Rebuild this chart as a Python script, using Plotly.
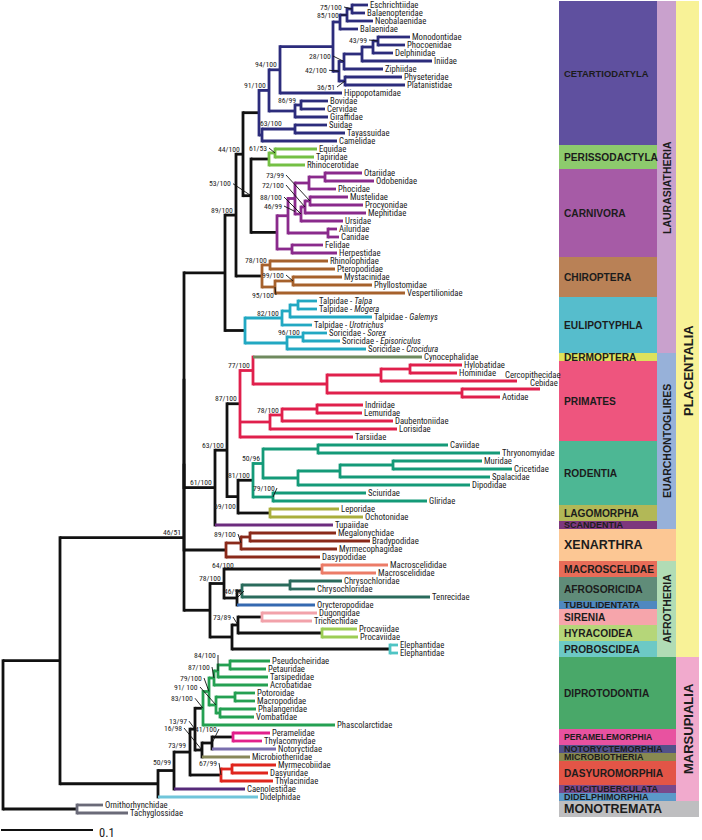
import plotly.graph_objects as go

# ------------------------------------------------------------------ data
LEAF_NAMES = [
    "Eschrichtiidae", "Balaenopteridae", "Neobalaenidae", "Balaenidae", "Monodontidae", "Phocoenidae",
    "Delphinidae", "Iniidae", "Ziphiidae", "Physeteridae", "Platanistidae", "Hippopotamidae", "Bovidae",
    "Cervidae", "Giraffidae", "Suidae", "Tayassuidae", "Camelidae",
    "Equidae", "Tapiridae", "Rhinocerotidae",
    "Otariidae", "Odobenidae", "Phocidae", "Mustelidae", "Procyonidae", "Mephitidae", "Ursidae",
    "Ailuridae", "Canidae", "Felidae", "Herpestidae",
    "Rhinolophidae", "Pteropodidae", "Mystacinidae", "Phyllostomidae", "Vespertilionidae",
    "Talpidae - <i>Talpa</i>", "Talpidae - <i>Mogera</i>", "Talpidae - <i>Galemys</i>",
    "Talpidae - <i>Urotrichus</i>", "Soricidae - <i>Sorex</i>", "Soricidae - <i>Episoriculus</i>",
    "Soricidae - <i>Crocidura</i>",
    "Cynocephalidae",
    "Hylobatidae", "Hominidae", "Cercopithecidae", "Cebidae", "Aotidae", "Indriidae", "Lemuridae",
    "Daubentoniidae", "Lorisidae", "Tarsiidae",
    "Caviidae", "Thryonomyidae", "Muridae", "Cricetidae", "Spalacidae", "Dipodidae", "Sciuridae", "Gliridae",
    "Leporidae", "Ochotonidae",
    "Tupaiidae",
    "Megalonychidae", "Bradypodidae", "Myrmecophagidae", "Dasypodidae",
    "Macroscelididae", "Macroscelididae",
    "Chrysochloridae", "Chrysochloridae", "Tenrecidae",
    "Orycteropodidae",
    "Dugongidae", "Trichechidae",
    "Procaviidae", "Procaviidae",
    "Elephantidae", "Elephantidae",
    "Pseudocheiridae", "Petauridae", "Tarsipedidae", "Acrobatidae", "Potoroidae", "Macropodidae",
    "Phalangeridae", "Vombatidae", "Phascolarctidae",
    "Peramelidae", "Thylacomyidae",
    "Notoryctidae",
    "Microbiotheriidae",
    "Myrmecobiidae", "Dasyuridae", "Thylacinidae",
    "Caenolestidae",
    "Didelphidae",
    "Ornithorhynchidae", "Tachyglossidae",
]

# distance of each tip from the root (tree units: 920 units = 1 substitution/site)
LEAF_DEPTH = [
    365, 362, 370, 355, 407, 402, 390, 429, 380, 399, 402, 339, 325, 322, 325, 324, 342, 334,
    314, 311, 302,
    359, 371, 333, 345, 360, 363, 340, 334, 336, 320, 334,
    325, 332, 339, 369, 402,
    314, 314, 369, 309, 324, 337, 363,
    419,
    459, 454, 514, 537, 497, 360, 359, 390, 394, 350,
    445, 497, 479, 509, 487, 467, 363, 424,
    336, 360,
    330,
    333, 367, 334, 317,
    385, 373,
    339, 312, 427,
    312,
    314, 309,
    354, 355,
    395, 395,
    267, 263, 265, 265, 252, 252, 253, 251, 332,
    267, 259,
    273,
    247,
    273, 265, 270,
    242,
    255,
    100, 125,
]

ORDER_CODES = ["CET", "PER", "CAR", "CHI", "EUL", "DER", "PRI", "ROD", "LAG", "SCA", "XEN", "MAC", "AFS",
               "TUB", "SIR", "HYR", "PRO", "DIP", "PEM", "NOT", "MIC", "DAS", "PAU", "DID", "MON"]
ORDER_NAMES = ["CETARTIODATYLA", "PERISSODACTYLA", "CARNIVORA", "CHIROPTERA", "EULIPOTYPHLA", "DERMOPTERA",
               "PRIMATES", "RODENTIA", "LAGOMORPHA", "SCANDENTIA", "XENARTHRA", "MACROSCELIDAE",
               "AFROSORICIDA", "TUBULIDENTATA", "SIRENIA", "HYRACOIDEA", "PROBOSCIDEA", "DIPROTODONTIA",
               "PERAMELEMORPHIA", "NOTORYCTEMORPHIA", "MICROBIOTHERIA", "DASYUROMORPHIA",
               "PAUCITUBERCULATA", "DIDELPHIMORPHIA", "MONOTREMATA"]
ORDER_LEAF_COUNT = [18, 3, 11, 5, 7, 1, 10, 8, 2, 1, 4, 2, 3, 1, 2, 2, 2, 9, 2, 1, 1, 3, 1, 1, 2]

SUPERORDERS = ["LAURASIATHERIA", "EUARCHONTOGLIRES", "AFROTHERIA"]
SUPERORDER_MEMBERS = [["CET", "PER", "CAR", "CHI", "EUL"],
                      ["DER", "PRI", "ROD", "LAG", "SCA"],
                      ["MAC", "AFS", "TUB", "SIR", "HYR", "PRO"]]
INFRACLASSES = ["PLACENTALIA", "MARSUPIALIA"]
INFRACLASS_MEMBERS = [["CET", "PER", "CAR", "CHI", "EUL", "DER", "PRI", "ROD", "LAG", "SCA", "XEN",
                       "MAC", "AFS", "TUB", "SIR", "HYR", "PRO"],
                      ["DIP", "PEM", "NOT", "MIC", "DAS", "PAU", "DID"]]

# internal nodes: id, depth, children (int = leaf index), clade, support (ML bootstrap / Bayesian PP)
NODE_IDS = ["EB", "ENB", "MYS", "MPH", "DELPH", "INIO", "ZIP", "PP", "ODO", "CETACEA", "WHIP", "BC", "RUM",
            "X1", "SUI", "Y1", "CETA", "ET", "PERI", "OO", "PIN", "MPC", "MUS", "MU", "ARC", "AC", "CAN",
            "FH", "CARN", "ZOO", "FER", "YIN", "MP2", "YAN", "CHIR", "SCR", "TM", "TMG", "TAL", "SE", "SOR",
            "EULI", "LAU", "HOMI", "CATA", "PLAT", "ANTH", "N77", "IL", "LEMF", "STR", "PRIM", "HYS", "MC",
            "MUR", "MYO", "N50", "SG", "RODE", "LAGO", "GLI", "N63", "EUA", "MB", "PIL", "XENA", "MACR",
            "CHR", "AFSO", "AT", "AIN", "SIRE", "HYRA", "SH", "PROB", "PAE", "AFR", "BOR", "BX", "PLA",
            "F", "E", "D2", "G", "H", "D3", "D1", "DIPR", "PEMN", "C", "B", "A", "DMD", "DASY", "AUS",
            "N73", "MARS", "THE", "MONO", "ROOT"]
NODE_DEPTH = [349, 344, 337, 375, 370, 359, 341, 342, 336, 330, 277, 298, 292,
              266, 292, 259, 256, 272, 266, 322, 306, 307, 302, 298, 292, 325, 285,
              289, 274, 248, 240, 267, 290, 272, 259, 233, 295, 287, 279, 300, 284,
              242, 222, 407, 378, 459, 324, 250, 314, 279, 267, 237, 315, 390,
              337, 295, 260, 270, 250, 267, 235, 224, 212, 247, 238, 223, 319,
              287, 239, 234, 221, 259, 319, 235, 387, 229, 207, 181, 181, 181,
              227, 215, 211, 232, 217, 213, 206, 200, 230, 209, 199, 192, 229, 218, 187,
              171, 155, 57, 74, 0]
NODE_CHILDREN = [[0, 1], ["EB", 2], ["ENB", 3], [4, 5], ["MPH", 6], ["DELPH", 7], ["INIO", 8], [9, 10],
                 ["ZIP", "PP"], ["MYS", "ODO"], ["CETACEA", 11], [12, 13], ["BC", 14],
                 ["WHIP", "RUM"], [15, 16], ["SUI", 17], ["X1", "Y1"], [18, 19], ["ET", 20], [21, 22],
                 ["OO", 23], [24, 25], ["MPC", 26], ["MUS", 27], ["PIN", "MU"], [28, 29], ["ARC", "AC"],
                 [30, 31], ["CAN", "FH"], ["PERI", "CARN"], ["CETA", "ZOO"], [32, 33], [34, 35],
                 ["MP2", 36], ["YIN", "YAN"], ["FER", "CHIR"], [37, 38], ["TM", 39], ["TMG", 40],
                 [41, 42], ["SE", 43],
                 ["TAL", "SOR"], ["SCR", "EULI"], [45, 46], ["HOMI", 47], [48, 49], ["CATA", "PLAT"],
                 [44, "ANTH"], [50, 51], ["IL", 52], ["LEMF", 53], ["N77", "STR", 54], [55, 56], [57, 58],
                 ["MC", 59], ["MUR", 60], ["HYS", "MYO"], [61, 62], ["N50", "SG"], [63, 64],
                 ["RODE", "LAGO"], ["PRIM", "GLI"], ["N63", 65], [66, 67], ["MB", 68], ["PIL", 69],
                 [70, 71],
                 [72, 73], ["CHR", 74], ["AFSO", 75], ["MACR", "AT"], [76, 77], [78, 79],
                 ["SIRE", "HYRA"], [80, 81], ["SH", "PROB"], ["AIN", "PAE"], ["LAU", "EUA"],
                 ["BOR", "XENA"], ["BX", "AFR"],
                 [82, 83], ["F", 84], ["E", 85], [86, 87], [88, 89], ["G", "H"], ["D2", "D3"],
                 ["D1", 90], [91, 92], ["PEMN", 93], ["C", 94], ["DIPR", "B"], [95, 96], ["DMD", 97],
                 ["A", "DASY"],
                 ["AUS", 98], ["N73", 99], ["PLA", "MARS"], [100, 101], ["THE", "MONO"]]
NODE_CLADE = ["CET"] * 17 + ["PER", "PER"] + ["CAR"] * 10 + [None, None] + ["CHI"] * 4 + [None] + \
             ["EUL"] * 6 + [None] + ["PRI"] * 9 + ["ROD"] * 7 + ["LAG", None, None, None] + \
             ["XEN"] * 3 + ["MAC", "AFS", "AFS", None, None, "SIR", "HYR", None, "PRO", None, None,
                            None, None, None] + \
             ["DIP"] * 8 + ["PEM", None, None, None, "DAS", "DAS", None, None, None, None, "MON", None]
NODE_SUPPORT = ["75/100", "85/100", "", "43/99", "", "", "28/100", "36/51", "42/100", "", "94/100",
                "86/99", "", "91/100", "", "63/100", "", "61/53", "", "", "", "73/99", "72/100",
                "88/100", "46/99", "", "", "", "", "53/100", "44/100", "78/100", "99/100", "95/100",
                "", "89/100", "", "", "82/100", "96/100", "", "", "", "", "", "", "", "77/100", "",
                "78/100", "", "87/100", "", "", "", "", "50/96", "79/100", "81/100", "", "69/100",
                "63/100", "61/100", "", "89/100", "", "64/100", "", "", "46/96", "78/100", "", "",
                "73/89", "", "", "", "", "", "46/51",
                "", "84/100", "87/100", "", "", "91/ 100", "79/100", "83/100", "", "41/100", "16/98",
                "13/97", "", "67/99", "", "73/99", "50/99", "", "", ""]

SCALE_BAR_VALUE = 0.1
DEPTH_PER_UNIT = 920  # tree depth units per substitution/site

# ------------------------------------------------------------------ style
BLACK = "#111111"
BRANCH_COLOR = {
    "CET": "#2c2c7c", "PER": "#74c044", "CAR": "#8a2a8c", "CHI": "#a6612c", "EUL": "#22a8c2",
    "DER": "#6f8a5e", "PRI": "#e0204c", "ROD": "#149a78", "LAG": "#a9ae3c", "SCA": "#6c2c7e",
    "XEN": "#8a2a1a", "MAC": "#ec7c68", "AFS": "#2a6b5c", "TUB": "#3569b0", "SIR": "#f2a2aa",
    "HYR": "#9ccd55", "PRO": "#4fc4c4", "DIP": "#24a052", "PEM": "#e2208c", "NOT": "#7a6fae",
    "MIC": "#88885a", "DAS": "#e0261e", "PAU": "#562a7a", "DID": "#70c5da", "MON": "#6a6a78",
}
ORDER_FILL = {
    "CET": "#5f509f", "PER": "#8dca6d", "CAR": "#a65ba6", "CHI": "#b98156", "EUL": "#56bdcc",
    "DER": "#dde25c", "PRI": "#ee557e", "ROD": "#4db794", "LAG": "#b2b857", "SCA": "#7d377d",
    "XEN": "#fcc794", "MAC": "#e86c58", "AFS": "#608c79", "TUB": "#4f88c0", "SIR": "#f6a5ab",
    "HYR": "#b5d679", "PRO": "#6dc9c5", "DIP": "#49a869", "PEM": "#e852a0", "NOT": "#525189",
    "MIC": "#898951", "DAS": "#e35547", "PAU": "#79498c", "DID": "#5b99c9", "MON": "#bebec0",
}
SUPER_FILL = {"LAURASIATHERIA": "#c9a1cd", "EUARCHONTOGLIRES": "#97b1d9", "AFROTHERIA": "#b1dcb5",
              "PLACENTALIA": "#f8f297", "MARSUPIALIA": "#f1aacd"}
ORDER_FONT = {"XEN": 12.5, "MON": 12.5, "SCA": 9, "NOT": 9, "MIC": 9, "PAU": 9, "DID": 9, "PEM": 8.6,
              "TUB": 9.2, "CET": 9.4}
LINE_W = 2.8
NARROW = "Roboto Condensed, DejaVu Sans Condensed, sans-serif"
BOLD = "Liberation Sans, Arial, sans-serif"
LEAF_FONT = 8.7
SUPPORT_FONT = 7.7

# support-label placement: node -> (dx px, dy px, leader line, leader target dy px)
LABEL_POS = {
    "EB": (-9, -2, True, 0), "ENB": (-7, 0, True, 0), "MPH": (-10, -1, True, 0),
    "ZIP": (-12, -5.5, True, 0), "PP": (-9, 6, True, 0), "ODO": (-11, -1, True, 0),
    "BC": (-4, -5, False, 0), "Y1": (21, -12, False, 0), "ET": (-7, -5, True, 0),
    "MPC": (-25, -26, True, 0), "MUS": (-20, -22, True, 0), "MU": (-18, -17, True, 0),
    "ARC": (-12, 7.5, True, 13), "ZOO": (-19, -12, True, 0), "MP2": (-8, -6, True, 0),
    "YAN": (0, 8, True, 0), "SG": (3, -9, True, 0), "GLI": (-1, 10, False, 0),
    "PIL": (-4, -9, True, 0), "MACR": (-87, -4, False, 0), "AT": (6, -7, True, 0),
    "SH": (-6, -8, True, 0), "E": (-1, -16, True, 0), "D2": (-3, -11, True, 0),
    "D3": (-17, -18, True, 0), "D1": (-6, -13.5, True, 0), "DIPR": (-9, -10, True, 0),
    "C": (6, -14, True, 0), "B": (-19, -22, True, 0), "A": (-7, -8, True, 0),
    "DASY": (-3, -12, True, 0), "N73": (13, -25.5, False, 0), "MARS": (14, -21, False, 0),
}
LEAF_LABEL_SHIFT = {47: (-14, -6), 48: (-12, -6)}
VLABEL_SHIFT = {"LAURASIATHERIA": 11, "PLACENTALIA": 42}

W, H = 702, 840
X0 = 3            # px of root
ROW0, ROW = 5, 8  # px of first leaf row, px per leaf row

LEAF_CLADE = []
for code, cnt in zip(ORDER_CODES, ORDER_LEAF_COUNT):
    LEAF_CLADE += [code] * cnt

node_index = {n: i for i, n in enumerate(NODE_IDS)}
_yc = {}


def ypos(c):
    if isinstance(c, int):
        return float(c)
    if c not in _yc:
        ch = NODE_CHILDREN[node_index[c]]
        _yc[c] = (ypos(ch[0]) + ypos(ch[-1])) / 2.0
    return _yc[c]


def xpos(c):
    return LEAF_DEPTH[c] if isinstance(c, int) else NODE_DEPTH[node_index[c]]


def clade(c):
    return LEAF_CLADE[c] if isinstance(c, int) else NODE_CLADE[node_index[c]]


segs = {}


def add(col, xs, ys):
    s = segs.setdefault(col, ([], []))
    s[0].extend(xs + [None])
    s[1].extend(ys + [None])


ext = (LINE_W / 2) / ROW
for n in NODE_IDS:
    i = node_index[n]
    x = NODE_DEPTH[i]
    ch = NODE_CHILDREN[i]
    ncl = NODE_CLADE[i]
    add(BRANCH_COLOR.get(ncl, BLACK), [x, x], [ypos(ch[0]) - ext, ypos(ch[-1]) + ext])
    for c in ch:
        ccl = clade(c)
        if isinstance(c, int) or (ccl is not None and ccl == ncl):
            col = BRANCH_COLOR[ccl]
        else:
            col = BLACK
        add(col, [x, xpos(c)], [ypos(c), ypos(c)])

fig = go.Figure()
order = [BLACK] + [c for c in segs if c != BLACK]
for col in order:
    if col in segs:
        fig.add_trace(go.Scatter(x=segs[col][0], y=segs[col][1], mode="lines",
                                 line=dict(color=col, width=LINE_W), hoverinfo="skip"))

ann = []
# tip labels
for i, name in enumerate(LEAF_NAMES):
    dx, dy = LEAF_LABEL_SHIFT.get(i, (0, 0))
    ann.append(dict(x=LEAF_DEPTH[i] + 1 + dx, y=i + dy / ROW, text=name, showarrow=False,
                    xanchor="left", yanchor="middle", borderpad=0,
                    font=dict(family=NARROW, size=LEAF_FONT, color="#222")))

# support labels + leader lines
lead_x, lead_y = [], []
for i, n in enumerate(NODE_IDS):
    s = NODE_SUPPORT[i]
    if not s:
        continue
    x, y = NODE_DEPTH[i], ypos(n)
    dx, dy, ptr, pdy = LABEL_POS.get(n, (-2, -5, False, 0))
    lx, ly = x + dx, y + dy / ROW
    ann.append(dict(x=lx, y=ly, text=s, showarrow=False, xanchor="right", yanchor="middle", borderpad=0,
                    font=dict(family=NARROW, size=SUPPORT_FONT, color="#222")))
    if ptr:
        lead_x += [lx + 1, x, None]
        lead_y += [ly, y + pdy / ROW, None]
fig.add_trace(go.Scatter(x=lead_x, y=lead_y, mode="lines", line=dict(color=BLACK, width=0.9),
                         hoverinfo="skip"))


# right-hand classification panel
def span(codes):
    idx = [k for k, c in enumerate(LEAF_CLADE) if c in codes]
    return min(idx) - 0.5, max(idx) + 0.5


def pxx(p):
    return p - X0


shapes = []
for code, name in zip(ORDER_CODES, ORDER_NAMES):
    y0, y1 = span([code])
    if code == "MON":
        xr = 699
    elif code in INFRACLASS_MEMBERS[1] or code == "XEN":
        xr = 676
    else:
        xr = 657
    shapes.append(dict(type="rect", xref="x", yref="y", x0=pxx(559), x1=pxx(xr), y0=y0, y1=y1,
                       fillcolor=ORDER_FILL[code], line=dict(width=0), layer="below"))
    ann.append(dict(x=pxx(563), y=(y0 + y1) / 2, text="<b>%s</b>" % name, showarrow=False,
                    xanchor="left", yanchor="middle", borderpad=0,
                    font=dict(family=BOLD, size=ORDER_FONT.get(code, 10.2), color="#1c1c1c")))

for name, mem in zip(SUPERORDERS, SUPERORDER_MEMBERS):
    y0, y1 = span(mem)
    shapes.append(dict(type="rect", xref="x", yref="y", x0=pxx(657), x1=pxx(676), y0=y0, y1=y1,
                       fillcolor=SUPER_FILL[name], line=dict(width=0), layer="below"))
    ann.append(dict(x=pxx(667), y=(y0 + y1) / 2 + VLABEL_SHIFT.get(name, 0) / ROW, text="<b>%s</b>" % name,
                    showarrow=False, textangle=-90, xanchor="center", yanchor="middle",
                    font=dict(family=BOLD, size=10.5, color="#1c1c1c")))
for name, mem in zip(INFRACLASSES, INFRACLASS_MEMBERS):
    y0, y1 = span(mem)
    shapes.append(dict(type="rect", xref="x", yref="y", x0=pxx(676), x1=pxx(699), y0=y0, y1=y1,
                       fillcolor=SUPER_FILL[name], line=dict(width=0), layer="below"))
    ann.append(dict(x=pxx(688), y=(y0 + y1) / 2 + VLABEL_SHIFT.get(name, 0) / ROW, text="<b>%s</b>" % name,
                    showarrow=False, textangle=-90, xanchor="center", yanchor="middle",
                    font=dict(family=BOLD, size=13, color="#1c1c1c")))

# scale bar
bar_len = SCALE_BAR_VALUE * DEPTH_PER_UNIT
ybar = (830 - ROW0) / ROW
fig.add_trace(go.Scatter(x=[-2, -2 + bar_len], y=[ybar, ybar], mode="lines",
                         line=dict(color=BLACK, width=2), hoverinfo="skip"))
ann.append(dict(x=-2 + bar_len + 4, y=ybar + 2 / ROW, text=str(SCALE_BAR_VALUE), showarrow=False,
                xanchor="left", yanchor="middle", font=dict(family=NARROW, size=12.5, color="#222")))

fig.update_layout(
    width=W, height=H, margin=dict(l=0, r=0, t=0, b=0),
    paper_bgcolor="white", plot_bgcolor="white", showlegend=False, hovermode=False,
    xaxis=dict(range=[-X0, W - X0], visible=False, fixedrange=True),
    yaxis=dict(range=[(H - ROW0) / ROW, -ROW0 / ROW], visible=False, fixedrange=True),
    shapes=shapes, annotations=ann,
)
fig.write_html("out.html", config={"displayModeBar": False},
               post_script="document.body.style.margin='0';document.body.style.overflow='hidden';")
